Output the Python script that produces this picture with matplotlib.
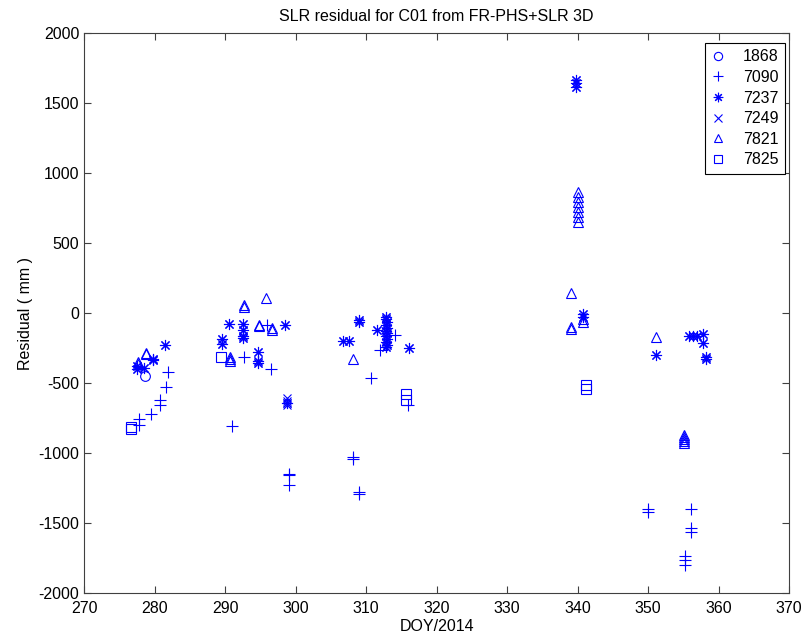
import matplotlib
matplotlib.use("Agg")
import matplotlib.pyplot as plt

plt.rcParams['font.family'] = ['Liberation Sans', 'DejaVu Sans']
plt.rcParams['axes.unicode_minus'] = False

# station 1868 (circle)
doy_1868 = [278.6]
res_1868 = [-450]

# station 7090 (plus)
doy_7090 = [281.9, 281.6, 280.8, 280.8, 279.5, 277.7, 277.7,
            295.9, 292.7, 296.5, 290.9, 299.0, 299.0, 299.0,
            314.1, 312.0, 310.7, 315.9, 308.1, 308.1, 309.0, 309.0,
            350.0, 350.0, 356.1, 356.1, 356.1, 355.3, 355.3, 355.3]
res_7090 = [-419, -526, -621, -657, -717, -757, -800,
            -81, -312, -402, -805, -1145, -1155, -1229,
            -157, -264, -460, -657, -1030, -1040, -1275, -1290,
            -1400, -1420, -1400, -1535, -1565, -1736, -1764, -1800]

# station 7237 (asterisk)
doy_7237 = [281.4, 279.7, 279.7, 277.5, 278.5, 277.5,
            290.6, 292.5, 292.5, 292.5, 292.5, 298.5, 289.5, 289.5,
            294.6, 294.6, 294.6, 298.8,
            309.0, 309.0, 306.7, 307.5, 311.5,
            312.8, 312.8, 312.9, 312.8, 312.9, 312.8, 313.0, 312.8, 312.9,
            312.8, 312.9, 312.8, 316.1,
            339.8, 339.8, 339.8, 340.8, 340.8,
            351.1, 355.8, 356.4, 357.0, 357.8, 357.8, 358.2, 358.2]
res_7237 = [-229, -324, -335, -402, -391, -380,
            -74, -78, -121, -160, -175, -81, -181, -217,
            -276, -340, -355, -640,
            -50, -60, -200, -200, -121,
            -25, -45, -65, -85, -105, -125, -145, -165, -185,
            -205, -225, -240, -248,
            1665, 1645, 1615, -5, -25,
            -300, -164, -164, -164, -150, -210, -315, -330]

# station 7249 (cross)
doy_7249 = [298.8, 298.8, 298.8]
res_7249 = [-605, -630, -655]

# station 7821 (triangle)
doy_7821 = [278.7, 278.7, 277.6, 277.6,
            292.6, 292.6, 295.8, 294.8, 294.8, 296.7, 296.7, 290.7, 290.7, 290.7,
            308.1,
            340.0, 340.0, 340.0, 340.0, 340.0, 340.0, 340.0,
            339.1, 339.0, 339.0, 340.8, 340.8,
            351.1, 355.1, 355.1, 355.1, 355.1, 355.1]
res_7821 = [-281, -295, -352, -365,
            45, 60, 105, -85, -95, -105, -118, -312, -328, -340,
            -329,
            866, 831, 795, 760, 724, 688, 652,
            141, -100, -115, -40, -60,
            -169, -870, -885, -900, -915, -930]

# station 7825 (square)
doy_7825 = [276.6, 276.6, 289.4, 315.7, 315.7, 341.2, 341.2]
res_7825 = [-815, -830, -312, -574, -617, -510, -540]

stations = ['1868', '7090', '7237', '7249', '7821', '7825']
markers = ['o', '+', (8, 2, 0), 'x', '^', 's']
doys = [doy_1868, doy_7090, doy_7237, doy_7249, doy_7821, doy_7825]
resids = [res_1868, res_7090, res_7237, res_7249, res_7821, res_7825]
sizes = [7, 9, 8, 6, 7, 6.5]

fig = plt.figure(figsize=(8.06, 6.36), dpi=100)
ax = fig.add_axes([0.1046, 0.0671, 0.8744, 0.8810])

for name, m, x, y, s in zip(stations, markers, doys, resids, sizes):
    ax.plot(x, y, linestyle='none', marker=m, markersize=s, color='blue',
            markerfacecolor='none', markeredgewidth=0.8, label=name)

ax.set_xlim(270, 370)
ax.set_ylim(-2000, 2000)
ax.set_xticks(range(270, 371, 10))
ax.set_yticks(range(-2000, 2001, 500))

ax.tick_params(direction='in', length=5, width=0.8, top=True, right=True,
               labelsize=11.5, color='#404040')
ax.tick_params(axis='x', pad=5.5)
ax.tick_params(axis='y', pad=3.5)
for sp in ax.spines.values():
    sp.set_color('#404040')
    sp.set_linewidth(0.8)

ax.set_title('SLR residual for C01 from FR-PHS+SLR 3D', fontsize=11.5, pad=9)
ax.set_xlabel('DOY/2014', fontsize=11.5, labelpad=2)
ax.set_ylabel('Residual ( mm )', fontsize=11.5, labelpad=4)

leg = ax.legend(loc='upper right', bbox_to_anchor=(0.9943, 0.982),
                borderaxespad=0, fancybox=False, framealpha=1,
                edgecolor='black', fontsize=11.5, labelspacing=0.35,
                handlelength=0.9, handletextpad=1.1, borderpad=0.4,
                markerscale=0.85)
leg.get_frame().set_linewidth(0.8)

fig.savefig('out.png', dpi=100)
